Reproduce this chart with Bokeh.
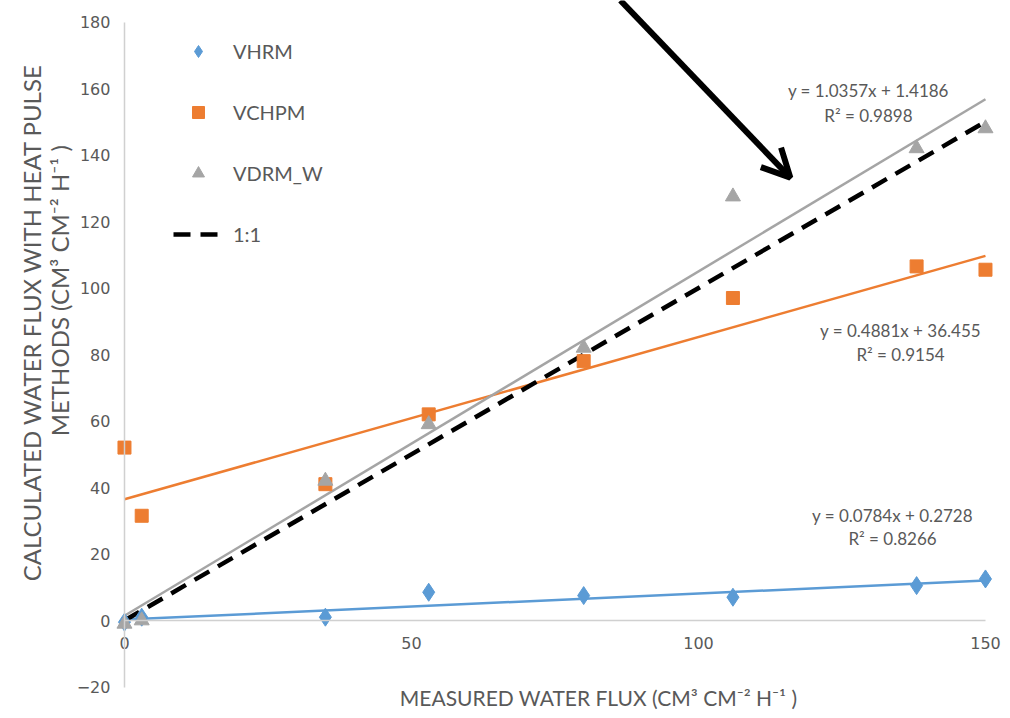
import math
from bokeh.plotting import figure
from bokeh.models import Range1d, FixedTicker, Legend, LegendItem, Label, Arrow, OpenHead
from bokeh.embed import file_html
from bokeh.resources import INLINE

# ---------------- data ----------------
measured = [0, 3, 35, 53, 80, 106, 138, 150]
vhrm = [-0.5, 1, 1, 8.5, 7.5, 7, 10.5, 12.5]
vchpm = [52, 31.5, 41, 62, 78, 97, 106.5, 105.5]
vdrm_w = [-1, 0, 42, 59, 82, 127.5, 142, 148]

series_names = ["VHRM", "VCHPM", "VDRM_W"]
slopes = [0.0784, 0.4881, 1.0357]
intercepts = [0.2728, 36.455, 1.4186]
r2 = [0.8266, 0.9154, 0.9898]

trend_x = [0, 150]
one_to_one = [0, 150]

x_ticks = [0, 50, 100, 150]
y_ticks = [-20, 0, 20, 40, 60, 80, 100, 120, 140, 160, 180]

# ---------------- styling ----------------
BLUE = "#5B9BD5"
ORANGE = "#ED7D31"
GRAY = "#A5A5A5"
TXT = "#595959"

p = figure(width=1008, height=716,
           x_range=Range1d(-21.60, 154.01), y_range=Range1d(-28.87, 186.47),
           output_backend="svg", toolbar_location=None)
p.min_border = 0
p.outline_line_color = None
p.grid.grid_line_color = None
p.background_fill_color = "white"

for ax, ticks in ((p.xaxis, x_ticks), (p.yaxis, y_ticks)):
    ax.fixed_location = 0
    ax.ticker = FixedTicker(ticks=ticks)
    ax.bounds = (ticks[0], ticks[-1])
    ax.major_tick_line_color = None
    ax.minor_tick_line_color = None
    ax.major_tick_out = 0
    ax.major_tick_in = 0
    ax.axis_line_color = "#D0D0D0"
    ax.axis_line_width = 1.5
    ax.major_label_text_font = "DejaVu Sans"
    ax.major_label_text_font_size = "16px"
    ax.major_label_text_color = TXT
p.xaxis.major_label_standoff = 16
p.yaxis.major_label_standoff = 14

# trendlines
colors = [BLUE, ORANGE, GRAY]
for m, b, c in zip(slopes, intercepts, colors):
    p.line(trend_x, [m * v + b for v in trend_x], line_color=c, line_width=2.5)

dash_r = p.line(one_to_one, one_to_one, line_color="black", line_width=4.5, line_dash="17 10")

r1 = p.scatter(measured, vhrm, marker="diamond", size=18, fill_color=BLUE, line_color=BLUE)
r2r = p.scatter(measured, vchpm, marker="square", size=13, fill_color=ORANGE, line_color=ORANGE)
r3 = p.scatter(measured, vdrm_w, marker="triangle", size=15, fill_color=GRAY, line_color=GRAY)

legend = Legend(items=[LegendItem(label=series_names[0], renderers=[r1]),
                       LegendItem(label=series_names[1], renderers=[r2r]),
                       LegendItem(label=series_names[2], renderers=[r3]),
                       LegendItem(label="1:1", renderers=[dash_r])],
                location=(173, 467))
legend.margin = 0
legend.padding = 0
legend.border_line_color = None
legend.background_fill_alpha = 0
legend.glyph_width = 50
legend.glyph_height = 30
legend.label_height = 30
legend.spacing = 31
legend.label_standoff = 10
legend.label_text_font = "Lato"
legend.label_text_font_size = "20px"
legend.label_text_color = TXT
p.add_layout(legend)

# trendline equations
eq_pos = [(133.8, 31.6, 24.7), (135.2, 87.2, 80.0), (129.6, 159.4, 151.9)]
for (ex, ey1, ey2), m, b, rr in zip(eq_pos, slopes, intercepts, r2):
    b_txt = ("%.4f" % b) if b < 10 else ("%.3f" % b)
    p.add_layout(Label(x=ex, y=ey1, text="y = %.4fx + %s" % (m, b_txt),
                       text_align="center", text_baseline="middle",
                       text_font="Lato", text_font_size="17px", text_color=TXT))
    p.add_layout(Label(x=ex, y=ey2, text="R² = %.4f" % rr,
                       text_align="center", text_baseline="middle",
                       text_font="Lato", text_font_size="17px", text_color=TXT))

# axis titles
p.add_layout(Label(x=82.6, y=-23.16, text="MEASURED WATER FLUX (CM³ CM⁻² H⁻¹ )",
                   text_align="center", text_baseline="middle",
                   text_font="Lato", text_font_size="21px", text_color=TXT))
p.add_layout(Label(x=-16.2, y=89.6, text="CALCULATED WATER FLUX WITH HEAT PULSE",
                   angle=math.pi / 2, text_align="center", text_baseline="middle",
                   text_font="Lato", text_font_size="24px", text_color=TXT))
p.add_layout(Label(x=-11.3, y=99.2, text="METHODS (CM³ CM⁻² H⁻¹ )",
                   angle=math.pi / 2, text_align="center", text_baseline="middle",
                   text_font="Lato", text_font_size="24px", text_color=TXT))

# annotation arrow
p.add_layout(Arrow(x_start=86.4, y_start=186.5, x_end=116.0, y_end=133.2,
                   line_color="black", line_width=6,
                   end=OpenHead(size=28, line_width=6, line_color="black")))

open("out.html", "w").write(file_html(p, INLINE))
